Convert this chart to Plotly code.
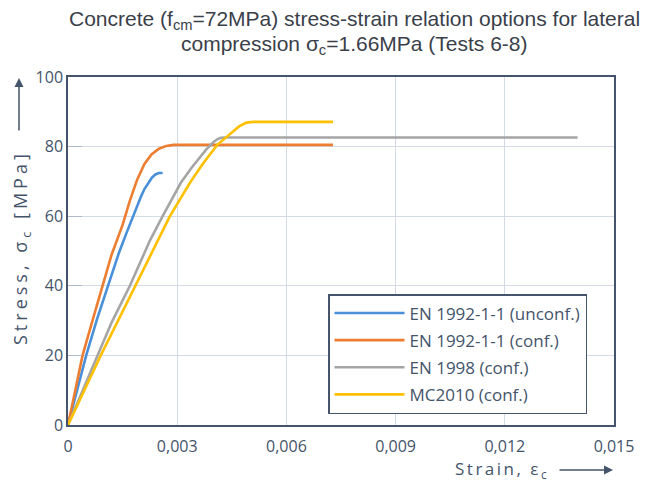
import plotly.graph_objects as go

# ---- data ----
unconf_strain = [0, 0.0003, 0.0005, 0.0008, 0.0011, 0.0014, 0.0016, 0.0018, 0.0020, 0.0021, 0.0022, 0.0023, 0.0024, 0.0025, 0.0026]
unconf_stress = [0, 12, 20, 30.5, 40, 49.5, 55, 60.5, 65.5, 67.8, 69.6, 71, 72, 72.4, 72.4]

ec2_strain = [0, 0.0002, 0.0004, 0.0007, 0.00095, 0.0012, 0.0015, 0.0017, 0.0019, 0.0021, 0.0023, 0.0025, 0.0027, 0.0029, 0.0031, 0.00728]
ec2_stress = [0, 10.5, 20, 31, 40, 49, 57.5, 64.5, 70.5, 75, 77.8, 79.4, 80.2, 80.5, 80.5, 80.5]

ec8_strain = [0, 0.0004, 0.0008, 0.0012, 0.0017, 0.0020, 0.00225, 0.0026, 0.0029, 0.0031, 0.0034, 0.0036, 0.0038, 0.0040, 0.0041, 0.0042, 0.0043, 0.0140]
ec8_stress = [0, 10, 20, 29.5, 40, 47, 53, 60, 66, 69.6, 74, 76.5, 79.2, 81.3, 82.1, 82.5, 82.6, 82.6]

mc_strain = [0, 0.00045, 0.0009, 0.0014, 0.00185, 0.0023, 0.0028, 0.00335, 0.0037, 0.0041, 0.0045, 0.0047, 0.0049, 0.0050, 0.0051, 0.00728]
mc_stress = [0, 10, 20, 30.5, 40, 49.5, 60, 69.6, 75, 80.5, 84, 85.8, 86.9, 87.1, 87.1, 87.1]

series_names = ["EN 1992-1-1 (unconf.)", "EN 1992-1-1 (conf.)", "EN 1998 (conf.)", "MC2010 (conf.)"]
series_colors = ["#4A90D9", "#ED7D31", "#A5A5A5", "#FFC000"]

x_tickvals = [0, 0.003, 0.006, 0.009, 0.012, 0.015]
x_ticktext = ["0", "0,003", "0,006", "0,009", "0,012", "0,015"]
y_tickvals = [0, 20, 40, 60, 80, 100]

title_line1 = "Concrete (f<sub>cm</sub>=72MPa) stress-strain relation options for lateral"
title_line2 = "compression σ<sub>c</sub>=1.66MPa (Tests 6-8)"
y_title = "Stress, σ<sub>c</sub> [MPa]"
x_title = "Strain, ε<sub>c</sub>"

TXT = "#44546A"
AX = "#44546A"
GRID = "#D3DAE5"

# plot area in pixels: x 68..614, y 77..425
L, R, T, B = 68, 614, 77, 425
W, H = R - L, B - T


def px(xp):
    return (xp - L) / W


def py(yp):
    return (B - yp) / H


fig = go.Figure()
xs = [unconf_strain, ec2_strain, ec8_strain, mc_strain]
ys = [unconf_stress, ec2_stress, ec8_stress, mc_stress]
for i, (x, y) in enumerate(zip(xs, ys)):
    fig.add_trace(go.Scatter(
        x=x, y=y, mode="lines", name=series_names[i],
        line=dict(color=series_colors[i], width=2.6),
        legendgroup=f"g{i}",
    ))

fig.update_layout(
    width=656, height=483,
    margin=dict(l=L, r=656 - R, t=T, b=483 - B),
    paper_bgcolor="white", plot_bgcolor="white",
    font=dict(family="Open Sans, sans-serif", color=TXT, size=16),
    xaxis=dict(
        range=[0, 0.015], tickvals=x_tickvals, ticktext=x_ticktext,
        showgrid=True, gridcolor=GRID, gridwidth=1,
        showline=True, linecolor=AX, linewidth=1.5, mirror=True,
        zeroline=False, ticks="", tickfont=dict(size=16, color=TXT),
        ticklabelstandoff=6,
    ),
    yaxis=dict(
        range=[0, 100], tickvals=y_tickvals,
        showgrid=True, gridcolor=GRID, gridwidth=1,
        showline=True, linecolor=AX, linewidth=1.5, mirror=True,
        zeroline=False, ticks="inside", ticklen=14, tickcolor="#AEB9C9",
        tickfont=dict(size=16, color=TXT),
    ),
    legend=dict(
        x=px(328), y=py(294), xanchor="left", yanchor="top",
        bgcolor="white", bordercolor=AX, borderwidth=1.5,
        font=dict(family="Open Sans, sans-serif", size=17, color=TXT),
        traceorder="grouped", tracegroupgap=2, itemwidth=70,
    ),
    showlegend=True,
)

# title (two centred lines)
title_font = dict(family="Liberation Sans, Arial, sans-serif", size=21, color="#3A3F4A")
fig.add_annotation(xref="paper", yref="paper", x=px(354), y=py(20), text=title_line1,
                   showarrow=False, xanchor="center", yanchor="middle", font=title_font)
fig.add_annotation(xref="paper", yref="paper", x=px(354), y=py(45), text=title_line2,
                   showarrow=False, xanchor="center", yanchor="middle", font=title_font)

# axis titles with arrows
fig.add_annotation(
    xref="paper", yref="paper", x=px(21), y=py(248),
    text=f'<span style="letter-spacing:4px">{y_title}</span>', textangle=-90, showarrow=False,
    font=dict(family="Open Sans, sans-serif", size=18, color=TXT),
    xanchor="center", yanchor="middle",
)
fig.add_annotation(
    xref="paper", yref="paper", x=px(19), y=py(78), ax=0, ay=54,
    text="", showarrow=True, arrowhead=2, arrowsize=1.2, arrowwidth=1.5, arrowcolor=AX,
)
fig.add_annotation(
    xref="paper", yref="paper", x=px(551), y=py(469),
    text=f'<span style="letter-spacing:2.5px">{x_title}</span>', showarrow=False,
    font=dict(family="Open Sans, sans-serif", size=17, color=TXT),
    xanchor="right", yanchor="middle",
)
fig.add_annotation(
    xref="paper", yref="paper", x=px(613), y=py(470), ax=-55, ay=0,
    text="", showarrow=True, arrowhead=2, arrowsize=1.2, arrowwidth=1.5, arrowcolor=AX,
)

fig.write_html("out.html")
